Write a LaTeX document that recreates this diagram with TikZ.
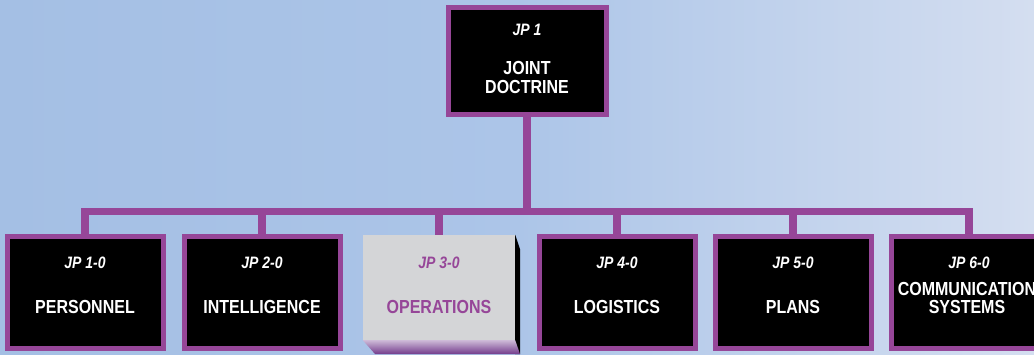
\documentclass[tikz,border=0pt]{standalone}
\usepackage{fontspec}
\setmainfont{Liberation Sans}
\definecolor{jpurple}{RGB}{150,70,152}
\definecolor{skyL}{RGB}{164,191,228}
\definecolor{skyM}{RGB}{172,197,232}
\definecolor{skyR}{RGB}{212,222,240}
\definecolor{opgray}{RGB}{212,213,215}
\tikzset{
  pub/.style={draw=jpurple, line width=5pt, fill=black, minimum width=156pt, minimum height=112pt, inner sep=0pt},
  conn/.style={draw=jpurple, line width=7.5pt, line join=miter},
  jp/.style={text=white, font=\bfseries\itshape\fontsize{14}{16}\selectfont, inner sep=0pt},
  ttl/.style={text=white, font=\bfseries\fontsize{16}{17}\selectfont, align=center, inner sep=0pt},
}
\newcommand{\tall}[1]{\scalebox{1}[1.18]{#1}}
\begin{document}
\begin{tikzpicture}[x=1pt,y=-1pt]
\useasboundingbox (0,0) rectangle (1034,354);
\shade[left color=skyL, right color=skyR, middle color=skyM] (0,0) rectangle (1034,354);
% top box
\node[pub, minimum width=158pt, minimum height=107pt] (top) at (527,60.5) {};
\node[jp] (top-jp) at (527,30) {\tall{JP 1}};
\node[ttl] (top-t) at (527,77) {\tall{JOINT}\\[2pt]\tall{DOCTRINE}};
% bottom boxes
\node[pub] (b1) at (85,292) {};
\node[pub] (b2) at (262,292) {};
\node[minimum width=152pt, minimum height=105pt, inner sep=0pt] (b3) at (439,287.5) {};
\node[pub] (b4) at (617,292) {};
\node[pub] (b5) at (793,292) {};
\node[pub] (b6) at (969,292) {};
% connectors
\coordinate (bar) at (527,211.5);
\draw[conn] (top.south) -- (top.south |- bar);
\draw[conn] (b1.north) |- (b6.north |- bar) -- (b6.north);
\draw[conn] (b2.north) -- (b2.north |- bar);
\draw[conn] (b3.north) -- (b3.north |- bar);
\draw[conn] (b4.north) -- (b4.north |- bar);
\draw[conn] (b5.north) -- (b5.north |- bar);
% operations 3D box
\fill[black] (b3.north east) -- ++(5,15) -- (520,354) -- (515,354) -- (b3.south east) -- cycle;
\shade[top color={rgb,255:red,205;green,185;blue,215}, bottom color={rgb,255:red,115;green,60;blue,140}]
  (b3.south west) -- (b3.south east) -- (520,354) -- (375,354) -- cycle;
\fill[opgray] (b3.south west) rectangle (b3.north east);
% texts
\node[jp] (t1a) at (85,263) {\tall{JP 1-0}};
\node[ttl] (t1b) at (85,307) {\tall{PERSONNEL}};
\node[jp] (t2a) at (262,263) {\tall{JP 2-0}};
\node[ttl] (t2b) at (262,307) {\tall{INTELLIGENCE}};
\node[jp, text=jpurple] (t3a) at (439,263) {\tall{JP 3-0}};
\node[ttl, text=jpurple] (t3b) at (439,307) {\tall{OPERATIONS}};
\node[jp] (t4a) at (617,263) {\tall{JP 4-0}};
\node[ttl] (t4b) at (617,307) {\tall{LOGISTICS}};
\node[jp] (t5a) at (793,263) {\tall{JP 5-0}};
\node[ttl] (t5b) at (793,307) {\tall{PLANS}};
\node[jp] (t6a) at (969,263) {\tall{JP 6-0}};
\node[ttl] (t6b) at (967,298) {\tall{COMMUNICATION}\\[1pt]\tall{SYSTEMS}};
\end{tikzpicture}
\end{document}
